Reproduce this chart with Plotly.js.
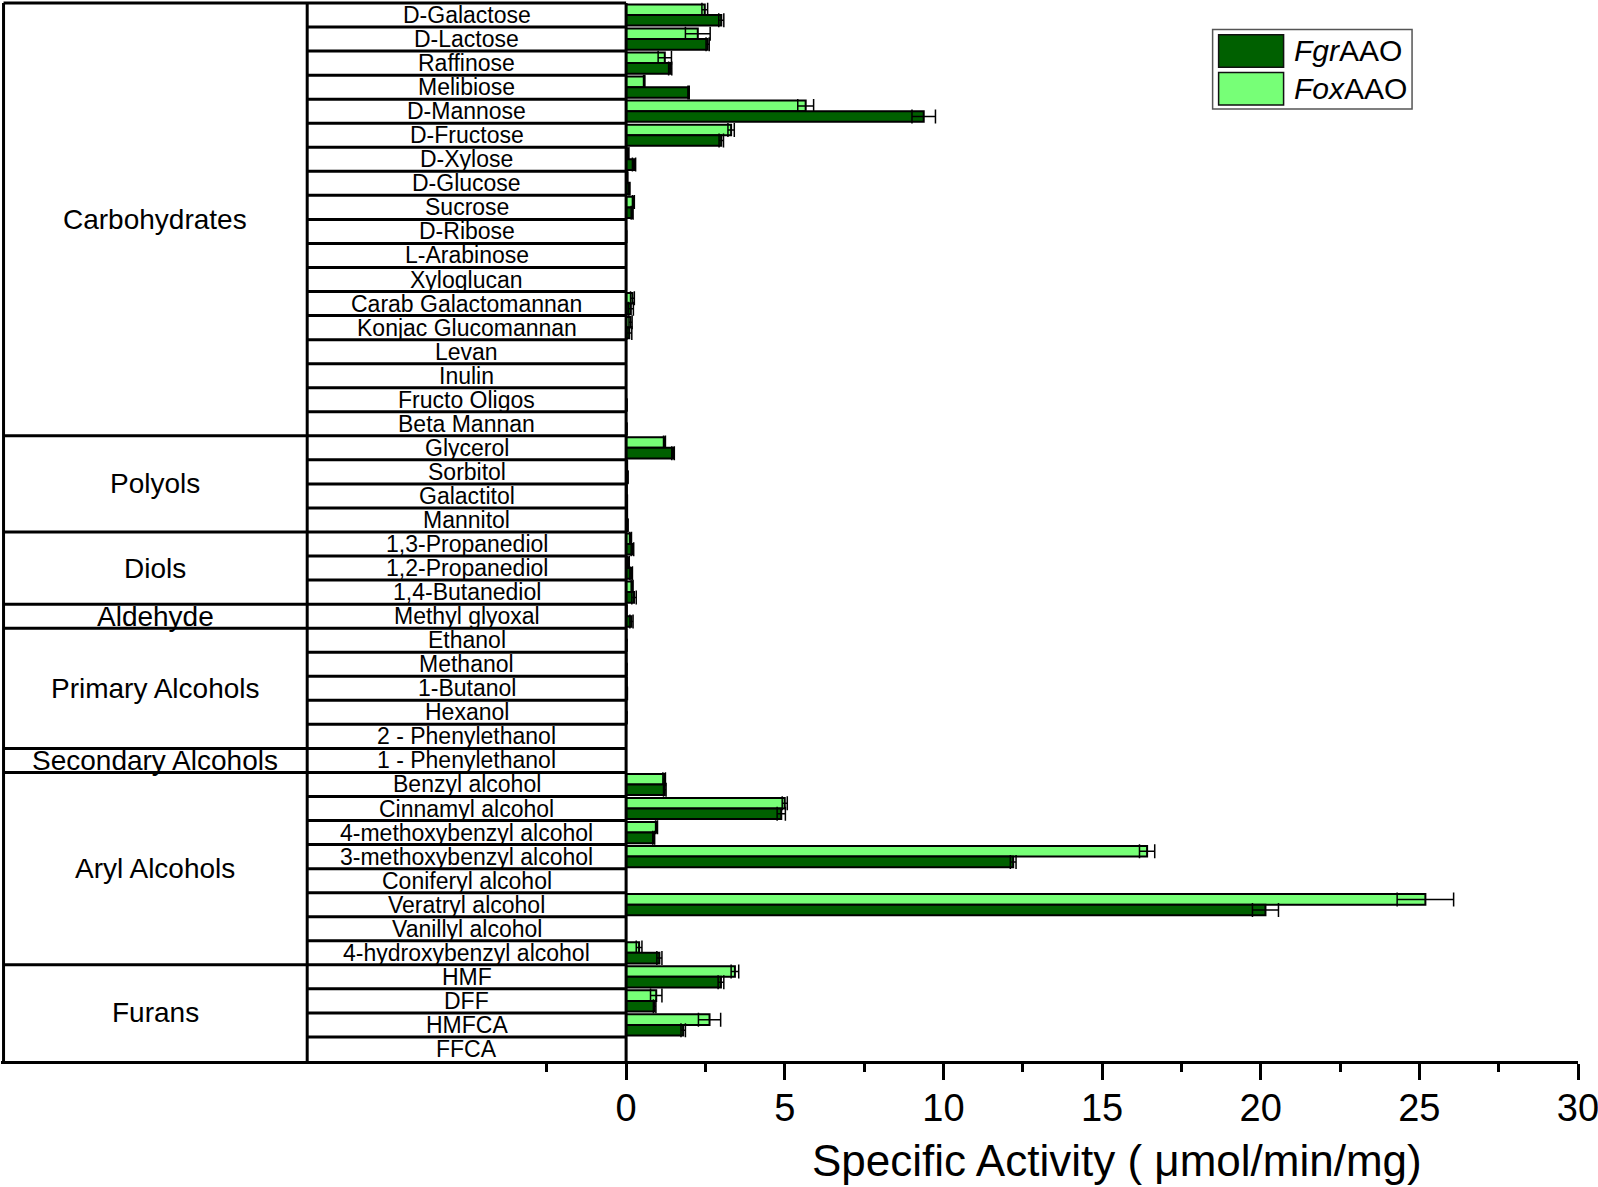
<!DOCTYPE html>
<html>
<head>
<meta charset="utf-8">
<script src="https://cdn.plot.ly/plotly-3.0.1.min.js"></script>
<style>html,body{margin:0;padding:0;background:#fff;}#chart{width:1598px;height:1187px;}</style>
</head>
<body>
<div id="chart"></div>
<script>
// ---------- DATA ----------
const categories = [
  'D-Galactose','D-Lactose','Raffinose','Melibiose','D-Mannose','D-Fructose','D-Xylose','D-Glucose',
  'Sucrose','D-Ribose','L-Arabinose','Xyloglucan','Carab Galactomannan','Konjac Glucomannan','Levan',
  'Inulin','Fructo Oligos','Beta Mannan',
  'Glycerol','Sorbitol','Galactitol','Mannitol',
  '1,3-Propanediol','1,2-Propanediol','1,4-Butanediol',
  'Methyl glyoxal',
  'Ethanol','Methanol','1-Butanol','Hexanol','2 - Phenylethanol',
  '1 - Phenylethanol',
  'Benzyl alcohol','Cinnamyl alcohol','4-methoxybenzyl alcohol','3-methoxybenzyl alcohol',
  'Coniferyl alcohol','Veratryl alcohol','Vanillyl alcohol','4-hydroxybenzyl alcohol',
  'HMF','DFF','HMFCA','FFCA'
];
const groupNames = ['Carbohydrates','Polyols','Diols','Aldehyde','Primary Alcohols','Secondary Alcohols','Aryl Alcohols','Furans'];
const groupSizes = [18, 4, 3, 1, 5, 1, 8, 4];

const fgrValues = [
  3.00, 2.57, 1.39, 1.97, 9.38, 3.00, 0.25, 0.10, 0.19, 0.01, 0.00, 0.00, 0.15, 0.10, 0.00, 0.00, 0.02, 0.02,
  1.48, 0.05, 0.03, 0.05,
  0.20, 0.16, 0.25,
  0.17,
  0.02, 0.02, 0.03, 0.02, 0.00,
  0.00,
  1.22, 4.89, 0.87, 12.20, 0.00, 20.15, 0.00, 1.05,
  2.99, 0.90, 1.80, 0.00
];
const fgrErrors = [
  0.08, 0.05, 0.05, 0.02, 0.37, 0.07, 0.05, 0.02, 0.03, 0.00, 0.00, 0.00, 0.08, 0.08, 0.00, 0.00, 0.00, 0.00,
  0.04, 0.01, 0.01, 0.01,
  0.04, 0.04, 0.07,
  0.05,
  0.00, 0.00, 0.01, 0.00, 0.00,
  0.00,
  0.04, 0.13, 0.03, 0.09, 0.00, 0.41, 0.00, 0.08,
  0.09, 0.04, 0.07, 0.00
];
const foxValues = [
  2.48, 2.26, 1.22, 0.57, 5.66, 3.31, 0.06, 0.04, 0.23, 0.00, 0.00, 0.00, 0.20, 0.14, 0.00, 0.00, 0.00, 0.00,
  1.21, 0.03, 0.02, 0.03,
  0.14, 0.07, 0.19,
  0.02,
  0.01, 0.01, 0.02, 0.01, 0.00,
  0.00,
  1.20, 5.00, 0.96, 16.42, 0.00, 25.19, 0.00, 0.41,
  3.43, 0.95, 2.63, 0.00
];
const foxErrors = [
  0.09, 0.39, 0.21, 0.02, 0.25, 0.10, 0.03, 0.01, 0.03, 0.00, 0.00, 0.00, 0.06, 0.05, 0.00, 0.00, 0.00, 0.00,
  0.03, 0.01, 0.00, 0.01,
  0.03, 0.03, 0.03,
  0.00,
  0.00, 0.00, 0.00, 0.00, 0.00,
  0.00,
  0.04, 0.08, 0.03, 0.24, 0.00, 0.89, 0.00, 0.09,
  0.12, 0.18, 0.35, 0.00
];
const tickVals = [0, 5, 10, 15, 20, 25, 30];
const tickText = ['0', '5', '10', '15', '20', '25', '30'];
const minorTickVals = [-2.5, 2.5, 7.5, 12.5, 17.5, 22.5, 27.5];
const seriesNames = ['FgrAAO', 'FoxAAO'];
const seriesLabels = ['<i>Fgr</i>AAO', '<i>Fox</i>AAO'];
const xTitle = 'Specific Activity ( \u03bcmol/min/mg)';

// ---------- LAYOUT CONSTANTS ----------
const FONT = 'Liberation Sans, Arial, sans-serif';
const DARK = '#006000', LIGHT = '#77FF77';
const FIG_W = 1598, FIG_H = 1187;
const M = {l: 1, r: 19.5, t: 1, b: 126};
const PW = FIG_W - M.l - M.r, PH = FIG_H - M.t - M.b;
const X_MIN = -19.70, X_MAX = 30;
const N = categories.length;
const Y_TOP = -0.5 - 2 / 24.05;
const TABLE_LEFT = -19.62, TABLE_MID = -10.05;
const px = v => (v - M.l) / PW;            // pixel x -> paper
const py = v => 1 - (v - M.t) / PH;        // pixel y -> paper

const traces = [
  {
    type: 'bar', orientation: 'h', name: seriesNames[1],
    y: categories, x: foxValues,
    marker: {color: LIGHT, line: {color: 'black', width: 2}},
    error_x: {type: 'data', array: foxErrors, visible: true, color: 'black', thickness: 1.5, width: 7},
    showlegend: false, hoverinfo: 'x+y'
  },
  {
    type: 'bar', orientation: 'h', name: seriesNames[0],
    y: categories, x: fgrValues,
    marker: {color: DARK, line: {color: 'black', width: 2}},
    error_x: {type: 'data', array: fgrErrors, visible: true, color: 'black', thickness: 1.5, width: 7},
    showlegend: false, hoverinfo: 'x+y'
  }
];

const LW = 3;
const shapes = [];
const line = (x0, y0, x1, y1) => shapes.push({type: 'line', xref: 'x', yref: 'y', x0, y0, x1, y1,
  line: {color: 'black', width: LW}, layer: 'above'});
// vertical borders
line(TABLE_LEFT, -0.5, TABLE_LEFT, N - 0.5);
line(TABLE_MID, -0.5, TABLE_MID, N - 0.5);
line(0, -0.5, 0, N - 0.5);
// top border
line(TABLE_LEFT, -0.5, 0, -0.5);
// category separators
for (let i = 0; i < N - 1; i++) line(TABLE_MID, i + 0.5, 0, i + 0.5);
// group separators and labels
const annotations = [];
let start = 0;
groupNames.forEach((g, gi) => {
  const end = start + groupSizes[gi];
  if (end < N) line(TABLE_LEFT, end - 0.5, TABLE_MID, end - 0.5);
  annotations.push({xref: 'x', yref: 'y', x: (TABLE_LEFT + TABLE_MID) / 2, y: (start + end - 1) / 2,
    text: g, showarrow: false, xanchor: 'center', yanchor: 'middle',
    font: {family: FONT, size: 28, color: 'black'}});
  start = end;
});
categories.forEach((c, i) => {
  annotations.push({xref: 'x', yref: 'y', x: TABLE_MID / 2, y: i, text: c, showarrow: false,
    xanchor: 'center', yanchor: 'middle', font: {family: FONT, size: 23, color: 'black'}});
});

// custom legend
shapes.push({type: 'rect', xref: 'paper', yref: 'paper', x0: px(1213), x1: px(1412.5), y0: py(109), y1: py(29.5),
  line: {color: '#555', width: 1.5}, fillcolor: 'white', layer: 'above'});
[[DARK, 34.7, 67.3], [LIGHT, 72.4, 105]].forEach(([col, a, b]) => {
  shapes.push({type: 'rect', xref: 'paper', yref: 'paper', x0: px(1219), x1: px(1284), y0: py(b), y1: py(a),
    line: {color: '#111', width: 1.5}, fillcolor: col, layer: 'above'});
});
[[seriesLabels[0], 51], [seriesLabels[1], 88.7]].forEach(([t, yy]) => {
  annotations.push({xref: 'paper', yref: 'paper', x: px(1292), y: py(yy), text: t, showarrow: false,
    xanchor: 'left', yanchor: 'middle', font: {family: FONT, size: 30, color: 'black'}});
});
// x-axis title
annotations.push({xref: 'paper', yref: 'paper', x: px(1117), y: py(1160), text: xTitle, showarrow: false,
  xanchor: 'center', yanchor: 'middle', font: {family: FONT, size: 44, color: 'black'}});

const layout = {
  width: FIG_W, height: FIG_H,
  margin: M,
  paper_bgcolor: 'white', plot_bgcolor: 'white',
  barmode: 'group', bargap: 0.12, bargroupgap: 0,
  font: {family: FONT, color: 'black'},
  xaxis: {
    range: [X_MIN, X_MAX], tickmode: 'array', tickvals: tickVals, ticktext: tickText,
    ticks: 'outside', ticklen: 16, tickwidth: 3, tickcolor: 'black',
    minor: {tickmode: 'array', tickvals: minorTickVals, ticks: 'outside', ticklen: 8, tickwidth: 3, tickcolor: 'black'},
    showline: true, linewidth: 3, linecolor: 'black', showgrid: false, zeroline: false,
    tickfont: {family: FONT, size: 38, color: 'black'}, ticklabelstandoff: -5,
    ticklabeloverflow: 'allow', fixedrange: true
  },
  yaxis: {
    type: 'category', categoryorder: 'array', categoryarray: categories,
    range: [N - 0.5, Y_TOP], showticklabels: false, ticks: '', showline: false,
    showgrid: false, zeroline: false, fixedrange: true
  },
  shapes, annotations,
  showlegend: false
};

Plotly.newPlot('chart', traces, layout, {displayModeBar: false, staticPlot: true});
</script>
</body>
</html>
